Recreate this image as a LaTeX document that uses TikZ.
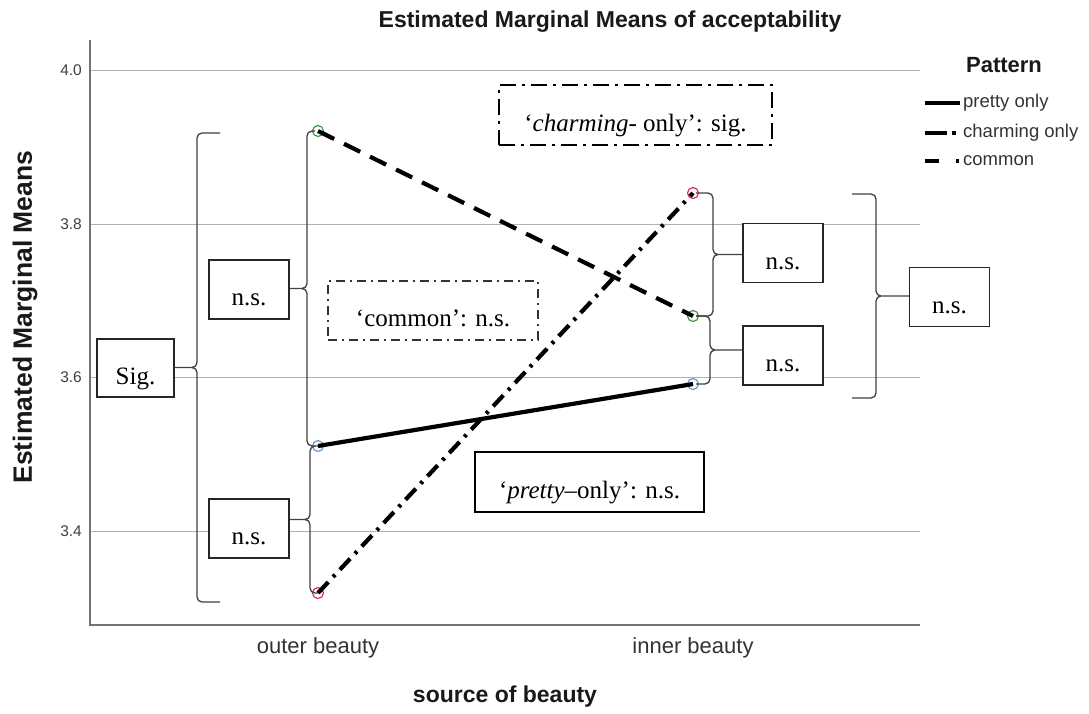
\documentclass[tikz,border=0pt]{standalone}
\usepackage{fontspec}
\setmainfont{Liberation Serif}
\newfontfamily\chartfont{Liberation Sans}
\usetikzlibrary{calc}

\definecolor{ptgreen}{RGB}{60,150,70}
\definecolor{ptblue}{RGB}{110,150,210}
\definecolor{ptred}{RGB}{225,45,85}

\tikzset{
  chart title/.style={font=\chartfont\bfseries\fontsize{23}{27}\selectfont, text=black!90},
  axis title/.style={font=\chartfont\bfseries\fontsize{23}{27}\selectfont, text=black!90},
  cat label/.style={font=\chartfont\fontsize{22}{26}\selectfont, text=black!80},
  tick label/.style={font=\chartfont\fontsize{15.5}{18}\selectfont, text=black!75, anchor=east, inner sep=1pt},
  legend text/.style={font=\chartfont\fontsize{18.5}{22}\selectfont, text=black!80, anchor=west, inner sep=1pt},
  grid line/.style={draw=black!30, line width=1pt},
  axis line/.style={draw=black!55, line width=1.2pt},
  mean line/.style={line width=4.2pt},
  pretty/.style={mean line},
  charming/.style={mean line, dash pattern=on 15pt off 7pt on 3pt off 7pt},
  common/.style={mean line, dash pattern=on 18pt off 11pt},
  mean point/.style={circle, draw=#1, line width=1.2pt, inner sep=0pt, minimum size=11pt},
  brace line/.style={draw=black!75, line width=1.3pt, rounded corners=5pt},
  test box/.style={draw=black!85, line width=1.3pt, fill=white,
    font=\fontsize{25}{30}\selectfont, text height=32pt, text depth=0pt,
    minimum width=80pt, minimum height=59pt, inner sep=2pt}
}

% brace from two end points, spine at x of #3, tip reaching x of #4
\newcommand{\meanbrace}[4]{%
  \draw[brace line] let \p1=(#1), \p2=(#2), \p3=(#3), \p4=(#4), \p5=($(\p1)!.5!(\p2)$) in
    (\p1) -- (\x3,\y1) -- (\x3,\y5) -- (\x4,\y5)
    (\p2) -- (\x3,\y2) -- (\x3,\y5) -- (\x4,\y5);}

\begin{document}
\begin{tikzpicture}[x=1pt,y=-1pt]
  \useasboundingbox (0,0) rectangle (1089,713);

  \node[chart title] (title) at (610,22) {Estimated Marginal Means of acceptability};
  \foreach \v/\y in {4.0/70,3.8/224,3.6/377,3.4/531}{
    \draw[grid line] (90,\y) -- (920,\y);
    \node[tick label] (tick\y) at (83,\y) {\v};
  }
  \draw[axis line] (90,40) -- (90,625) -- (920,625);
  \node[axis title, rotate=90, font=\chartfont\bfseries\fontsize{26.5}{30}\selectfont] (ylab) at (25,317) {Estimated Marginal Means};
  \node[cat label] (outer) at (318,648) {outer beauty};
  \node[cat label] (inner) at (693,648) {inner beauty};
  \node[axis title] (xlab) at (505,697) {source of beauty};

  % legend
  \node[chart title, font=\chartfont\bfseries\fontsize{22}{26}\selectfont] (legtitle) at (1004,65) {Pattern};
  \node[legend text] (leg-pr) at (962,103) {pretty only};
  \node[legend text] (leg-ch) at (962,133) {charming only};
  \node[legend text] (leg-co) at (962,161) {common};
  \draw[pretty] (leg-pr.west) ++(-2,0) -- ++(-35,0);
  \draw[mean line, dash pattern=on 22pt off 5pt on 4pt] (leg-ch.west) ++(-37,0) -- ++(35,0);
  \draw[mean line, dash pattern=on 14pt off 17pt on 3pt] (leg-co.west) ++(-37,0) -- ++(35,0);

  % means
  \node[mean point=ptgreen] (co-out) at (318,131) {};
  \node[mean point=ptgreen] (co-in) at (693,316) {};
  \node[mean point=ptblue] (pr-out) at (318,446) {};
  \node[mean point=ptblue] (pr-in) at (693,384) {};
  \node[mean point=ptred] (ch-out) at (318,593) {};
  \node[mean point=ptred] (ch-in) at (693,193) {};
  \draw[common] (co-out.center) -- (co-in.center);
  \draw[pretty] (pr-out.center) -- (pr-in.center);
  \draw[charming] (ch-out.center) -- (ch-in.center);

  % test results
  \node[test box, minimum width=77pt, minimum height=58pt] (sig) at (135.5,368) {Sig.};
  \node[test box] (ns-o1) at (249,289.5) {n.s.};
  \node[test box] (ns-o2) at (249,528.5) {n.s.};
  \node[test box] (ns-i1) at (783,253) {n.s.};
  \node[test box] (ns-i2) at (783,355.5) {n.s.};
  \node[test box] (ns-r) at (949.5,297) {n.s.};
  \node[test box, draw=black, line width=2.6pt, dash pattern=on 16pt off 6pt on 3pt off 6pt,
    minimum width=273pt, minimum height=60pt] (charm) at (635.5,115) {‘\textit{charming}- only’: sig.};
  \node[test box, draw=black!80, line width=1.5pt, dash pattern=on 9pt off 5pt on 2pt off 5pt,
    minimum width=210pt] (comm) at (433,310.5) {‘common’: n.s.};
  \node[test box, draw=black, line width=2.4pt, minimum width=229pt, minimum height=60pt]
    (pret) at (589.5,482) {‘\textit{pretty}–only’: n.s.};

  \meanbrace{220,133}{220,602}{197,0}{sig.east}
  \meanbrace{[xshift=-3pt]co-out}{[xshift=-3pt]pr-out}{307,0}{ns-o1.east}
  \meanbrace{pr-out}{ch-out}{310,0}{ns-o2.east}
  \meanbrace{[xshift=3pt]ch-in}{[xshift=3pt]co-in}{713,0}{ns-i1.west}
  \meanbrace{[xshift=3pt]co-in}{[xshift=3pt]pr-in}{710,0}{ns-i2.west}
  \meanbrace{852,194}{852,398}{876,0}{ns-r.west}
\end{tikzpicture}
\end{document}
